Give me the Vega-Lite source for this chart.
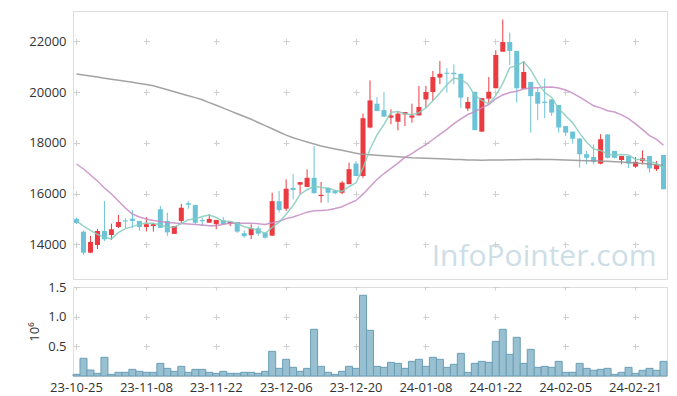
{
  "$schema": "https://vega.github.io/schema/vega-lite/v6.json",
  "padding": {"left": 28, "top": 10, "right": 10, "bottom": 0},
  "background": "white",
  "config": {
    "view": {"stroke": "#dddddd"},
    "font": "Open Sans",
    "axis": {"labelFont": "Open Sans", "labelFontSize": 13, "labelColor": "#333333", "ticks": false, "domain": false, "gridColor": "#d0d0d0", "gridWidth": 1, "titleFont": "Open Sans", "titleFontWeight": "normal", "titleColor": "#333333"}
  },
  "data": {"values": [
    {"d":"23-10-25","o":15000,"h":15050,"l":14800,"c":14840,"v":28000,"m5":14920,"m20":17164,"m120":20711},
    {"d":"23-10-26","o":14496,"h":14540,"l":13580,"c":13669,"v":298000,"m5":14720,"m20":16967,"m120":20672},
    {"d":"23-10-27","o":13670,"h":14330,"l":13650,"c":14090,"v":101000,"m5":14550,"m20":16731,"m120":20629},
    {"d":"23-10-30","o":13972,"h":14603,"l":13815,"c":14524,"v":45000,"m5":14390,"m20":16494,"m120":20589},
    {"d":"23-10-31","o":14524,"h":15706,"l":14130,"c":14197,"v":315000,"m5":14264,"m20":16219,"m120":20546},
    {"d":"23-11-01","o":14366,"h":14812,"l":14169,"c":14591,"v":28000,"m5":14214,"m20":15982,"m120":20506},
    {"d":"23-11-02","o":14682,"h":15155,"l":14640,"c":14879,"v":62000,"m5":14456,"m20":15706,"m120":20463},
    {"d":"23-11-03","o":14940,"h":15030,"l":14640,"c":14900,"v":62000,"m5":14618,"m20":15430,"m120":20424},
    {"d":"23-11-06","o":15010,"h":15350,"l":14640,"c":14920,"v":112000,"m5":14697,"m20":15194,"m120":20384},
    {"d":"23-11-07","o":14920,"h":14920,"l":14530,"c":14680,"v":79000,"m5":14794,"m20":15076,"m120":20341},
    {"d":"23-11-08","o":14680,"h":15070,"l":14510,"c":14790,"v":62000,"m5":14834,"m20":14997,"m120":20301},
    {"d":"23-11-09","o":14720,"h":14850,"l":14500,"c":14790,"v":62000,"m5":14816,"m20":14938,"m120":20246},
    {"d":"23-11-10","o":15380,"h":15510,"l":14640,"c":14650,"v":213000,"m5":14766,"m20":14898,"m120":20167},
    {"d":"23-11-13","o":14920,"h":15250,"l":14330,"c":14470,"v":129000,"m5":14676,"m20":14859,"m120":20089},
    {"d":"23-11-14","o":14410,"h":14720,"l":14410,"c":14720,"v":79000,"m5":14684,"m20":14839,"m120":20014},
    {"d":"23-11-15","o":14920,"h":15590,"l":14850,"c":15440,"v":163000,"m5":14814,"m20":14819,"m120":19935},
    {"d":"23-11-16","o":15620,"h":15700,"l":15400,"c":15560,"v":62000,"m5":14968,"m20":14800,"m120":19856},
    {"d":"23-11-17","o":15550,"h":15550,"l":14800,"c":14850,"v":112000,"m5":15008,"m20":14780,"m120":19781},
    {"d":"23-11-20","o":14960,"h":15050,"l":14720,"c":14910,"v":112000,"m5":15096,"m20":14760,"m120":19695},
    {"d":"23-11-21","o":14850,"h":15180,"l":14850,"c":15000,"v":62000,"m5":15152,"m20":14726,"m120":19584},
    {"d":"23-11-22","o":14790,"h":14960,"l":14590,"c":14960,"v":45000,"m5":15056,"m20":14732,"m120":19478},
    {"d":"23-11-23","o":14950,"h":15080,"l":14790,"c":14790,"v":79000,"m5":14902,"m20":14788,"m120":19367},
    {"d":"23-11-24","o":14810,"h":14880,"l":14720,"c":14880,"v":45000,"m5":14908,"m20":14827,"m120":19257},
    {"d":"23-11-27","o":14880,"h":14880,"l":14450,"c":14500,"v":45000,"m5":14826,"m20":14826,"m120":19147},
    {"d":"23-11-28","o":14440,"h":14550,"l":14260,"c":14320,"v":62000,"m5":14690,"m20":14832,"m120":19036},
    {"d":"23-11-29","o":14360,"h":14790,"l":14200,"c":14630,"v":62000,"m5":14624,"m20":14834,"m120":18926},
    {"d":"23-11-30","o":14630,"h":14720,"l":14330,"c":14420,"v":45000,"m5":14550,"m20":14811,"m120":18800},
    {"d":"23-12-01","o":14460,"h":14460,"l":14230,"c":14260,"v":79000,"m5":14426,"m20":14778,"m120":18678},
    {"d":"23-12-04","o":14340,"h":16030,"l":14340,"c":15700,"v":416000,"m5":14666,"m20":14847,"m120":18552},
    {"d":"23-12-05","o":15700,"h":16100,"l":15250,"c":15350,"v":129000,"m5":14872,"m20":14911,"m120":18426},
    {"d":"23-12-06","o":15400,"h":16560,"l":15310,"c":16190,"v":281000,"m5":15184,"m20":15011,"m120":18303},
    {"d":"23-12-07","o":16220,"h":16760,"l":15770,"c":16140,"v":146000,"m5":15528,"m20":15078,"m120":18197},
    {"d":"23-12-08","o":16350,"h":16450,"l":15990,"c":16450,"v":79000,"m5":15966,"m20":15168,"m120":18114},
    {"d":"23-12-11","o":16260,"h":16950,"l":16260,"c":16620,"v":129000,"m5":16150,"m20":15266,"m120":18031},
    {"d":"23-12-12","o":16620,"h":17870,"l":16010,"c":16010,"v":787000,"m5":16282,"m20":15320,"m120":17949},
    {"d":"23-12-13","o":15900,"h":16460,"l":15640,"c":15950,"v":163000,"m5":16234,"m20":15336,"m120":17870},
    {"d":"23-12-14","o":16230,"h":16230,"l":15640,"c":16030,"v":62000,"m5":16212,"m20":15349,"m120":17815},
    {"d":"23-12-15","o":16100,"h":16150,"l":15970,"c":16010,"v":28000,"m5":16124,"m20":15407,"m120":17759},
    {"d":"23-12-18","o":16030,"h":16490,"l":15970,"c":16430,"v":79000,"m5":16086,"m20":15482,"m120":17704},
    {"d":"23-12-19","o":16370,"h":17220,"l":16370,"c":16960,"v":163000,"m5":16276,"m20":15610,"m120":17645},
    {"d":"23-12-20","o":17180,"h":17280,"l":16690,"c":16690,"v":129000,"m5":16424,"m20":15727,"m120":17590},
    {"d":"23-12-21","o":16690,"h":19150,"l":16620,"c":18970,"v":1360000,"m5":17012,"m20":15976,"m120":17551},
    {"d":"23-12-22","o":18600,"h":20460,"l":18570,"c":19670,"v":770000,"m5":17744,"m20":16265,"m120":17531},
    {"d":"23-12-26","o":19540,"h":19800,"l":19250,"c":19250,"v":163000,"m5":18308,"m20":16553,"m120":17511},
    {"d":"23-12-27","o":19290,"h":20000,"l":19030,"c":19030,"v":146000,"m5":18722,"m20":16788,"m120":17491},
    {"d":"23-12-28","o":18990,"h":19320,"l":18730,"c":19080,"v":230000,"m5":19200,"m20":16991,"m120":17468},
    {"d":"24-01-02","o":18830,"h":19250,"l":18490,"c":19150,"v":213000,"m5":19236,"m20":17197,"m120":17448},
    {"d":"24-01-03","o":19120,"h":19210,"l":18660,"c":19210,"v":129000,"m5":19144,"m20":17425,"m120":17428},
    {"d":"24-01-04","o":18990,"h":19540,"l":18790,"c":19080,"v":247000,"m5":19110,"m20":17574,"m120":17409},
    {"d":"24-01-05","o":19080,"h":20240,"l":19080,"c":19410,"v":281000,"m5":19186,"m20":17757,"m120":17401},
    {"d":"24-01-08","o":19710,"h":20240,"l":19380,"c":20000,"v":163000,"m5":19370,"m20":17927,"m120":17389},
    {"d":"24-01-09","o":20000,"h":20830,"l":19650,"c":20590,"v":315000,"m5":19658,"m20":18130,"m120":17377},
    {"d":"24-01-10","o":20570,"h":21220,"l":20310,"c":20720,"v":281000,"m5":19960,"m20":18333,"m120":17369},
    {"d":"24-01-11","o":20760,"h":20940,"l":19980,"c":20720,"v":146000,"m5":20288,"m20":18528,"m120":17358},
    {"d":"24-01-12","o":20760,"h":21090,"l":20310,"c":20700,"v":197000,"m5":20550,"m20":18754,"m120":17346},
    {"d":"24-01-15","o":20720,"h":20720,"l":19380,"c":19780,"v":382000,"m5":20506,"m20":18945,"m120":17338},
    {"d":"24-01-16","o":19350,"h":19805,"l":19253,"c":19610,"v":62000,"m5":20310,"m20":19114,"m120":17326},
    {"d":"24-01-17","o":20010,"h":20010,"l":18500,"c":18500,"v":213000,"m5":19866,"m20":19229,"m120":17318},
    {"d":"24-01-18","o":18440,"h":19760,"l":18440,"c":19760,"v":247000,"m5":19674,"m20":19375,"m120":17314},
    {"d":"24-01-19","o":19740,"h":20590,"l":19580,"c":20010,"v":230000,"m5":19532,"m20":19508,"m120":17318},
    {"d":"24-01-22","o":20150,"h":21650,"l":20150,"c":21460,"v":584000,"m5":19868,"m20":19736,"m120":17322},
    {"d":"24-01-23","o":21590,"h":22860,"l":21590,"c":21970,"v":787000,"m5":20340,"m20":19886,"m120":17326},
    {"d":"24-01-24","o":21970,"h":22340,"l":21060,"c":21620,"v":365000,"m5":20964,"m20":19984,"m120":17330},
    {"d":"24-01-25","o":21620,"h":21620,"l":19580,"c":20150,"v":652000,"m5":21042,"m20":20029,"m120":17334},
    {"d":"24-01-26","o":20130,"h":21220,"l":20130,"c":20790,"v":213000,"m5":21198,"m20":20117,"m120":17338},
    {"d":"24-01-29","o":20400,"h":20400,"l":18400,"c":19840,"v":449000,"m5":20874,"m20":20155,"m120":17346},
    {"d":"24-01-30","o":20000,"h":20170,"l":18890,"c":19540,"v":146000,"m5":20388,"m20":20174,"m120":17350},
    {"d":"24-01-31","o":19620,"h":20540,"l":18970,"c":19570,"v":163000,"m5":19980,"m20":20193,"m120":17345},
    {"d":"24-02-01","o":19710,"h":19710,"l":19060,"c":19190,"v":146000,"m5":19788,"m20":20198,"m120":17340},
    {"d":"24-02-02","o":19490,"h":19490,"l":18400,"c":18600,"v":247000,"m5":19350,"m20":20158,"m120":17330},
    {"d":"24-02-05","o":18660,"h":18660,"l":18270,"c":18400,"v":62000,"m5":19062,"m20":20078,"m120":17320},
    {"d":"24-02-06","o":18440,"h":18440,"l":17965,"c":18160,"v":62000,"m5":18786,"m20":19956,"m120":17312},
    {"d":"24-02-07","o":18170,"h":18170,"l":17020,"c":17550,"v":213000,"m5":18380,"m20":19798,"m120":17305},
    {"d":"24-02-08","o":17550,"h":17680,"l":17150,"c":17410,"v":129000,"m5":18024,"m20":19632,"m120":17297},
    {"d":"24-02-13","o":17440,"h":17940,"l":17150,"c":17240,"v":96000,"m5":17752,"m20":19458,"m120":17290},
    {"d":"24-02-14","o":17180,"h":18340,"l":17150,"c":18140,"v":112000,"m5":17700,"m20":19376,"m120":17280},
    {"d":"24-02-15","o":18330,"h":18330,"l":17380,"c":17410,"v":129000,"m5":17550,"m20":19266,"m120":17270},
    {"d":"24-02-16","o":17680,"h":17680,"l":17380,"c":17410,"v":28000,"m5":17522,"m20":19212,"m120":17255},
    {"d":"24-02-19","o":17320,"h":17480,"l":17150,"c":17480,"v":62000,"m5":17536,"m20":19098,"m120":17240},
    {"d":"24-02-20","o":17480,"h":17480,"l":17010,"c":17180,"v":146000,"m5":17524,"m20":18956,"m120":17220},
    {"d":"24-02-21","o":17060,"h":17440,"l":17010,"c":17250,"v":45000,"m5":17346,"m20":18746,"m120":17200},
    {"d":"24-02-22","o":17280,"h":17700,"l":17150,"c":17390,"v":96000,"m5":17342,"m20":18517,"m120":17180},
    {"d":"24-02-23","o":17480,"h":17480,"l":16820,"c":16990,"v":129000,"m5":17258,"m20":18285,"m120":17160},
    {"d":"24-02-26","o":16960,"h":17280,"l":16890,"c":17150,"v":96000,"m5":17192,"m20":18135,"m120":17135},
    {"d":"24-02-27","o":17520,"h":17520,"l":16170,"c":16170,"v":247000,"m5":16990,"m20":17904,"m120":17110}
  ]},
  "spacing": 0,
  "resolve": {"scale": {"y": "independent"}},
  "vconcat": [
    {
      "width": 594,
      "height": 268,
      "encoding": {
        "x": {"field": "d", "type": "ordinal", "sort": null, "title": null,
              "scale": {"paddingInner": 0, "paddingOuter": 0},
              "axis": {"labels": false, "ticks": false, "domain": false, "grid": true, "bandPosition": 0.5,
                       "gridDash": [6, 44.75], "gridDashOffset": 23.45,
                       "values": ["23-10-25","23-11-08","23-11-22","23-12-06","23-12-20","24-01-08","24-01-22","24-02-05","24-02-21"]}}
      },
      "layer": [
        {
          "mark": {"type": "rule", "strokeWidth": 1},
          "encoding": {
            "y": {"field": "l", "type": "quantitative", "title": null,
                  "scale": {"domain": [12632, 23194], "nice": false, "zero": false},
                  "axis": {"values": [14000, 16000, 18000, 20000, 22000], "format": "d", "labelPadding": 7, "grid": true, "gridDash": [6, 63.88], "gridDashOffset": -0.5}},
            "y2": {"field": "h"},
            "color": {"condition": {"test": "datum.c > datum.o", "value": "#ec3b40"}, "value": "#6cc3d7"}
          }
        },
        {
          "mark": {"type": "bar", "width": {"band": 0.72}},
          "encoding": {
            "y": {"field": "o", "type": "quantitative", "title": null},
            "y2": {"field": "c"},
            "color": {"condition": {"test": "datum.c > datum.o", "value": "#ec3b40"}, "value": "#6cc3d7"}
          }
        },
        {
          "mark": {"type": "line", "color": "#999999", "strokeWidth": 1.5, "opacity": 0.9},
          "encoding": {"y": {"field": "m120", "type": "quantitative", "title": null}}
        },
        {
          "mark": {"type": "line", "color": "#c58bc3", "strokeWidth": 1.5, "opacity": 0.85},
          "encoding": {"y": {"field": "m20", "type": "quantitative", "title": null}}
        },
        {
          "mark": {"type": "line", "color": "#86cbbd", "strokeWidth": 1.5, "opacity": 0.85},
          "encoding": {"y": {"field": "m5", "type": "quantitative", "title": null}}
        },
        {
          "data": {"values": [{}]},
          "mark": {"type": "text", "text": "InfoPointer.com", "font": "Open Sans", "fontSize": 30, "color": "#c8dbe5", "opacity": 0.9, "align": "right", "baseline": "alphabetic"},
          "encoding": {"x": {"datum": "24-02-26"}, "y": {"datum": 13150}}
        }
      ]
    },
    {
      "width": 594,
      "height": 89,
      "mark": {"type": "bar", "color": "#99c0d1", "stroke": "#6a9eb6", "strokeWidth": 1},
      "encoding": {
        "x": {"field": "d", "type": "ordinal", "sort": null, "title": null,
              "scale": {"paddingInner": 0, "paddingOuter": 0},
              "axis": {"labelAngle": 0, "labelPadding": 5, "ticks": false, "domain": false, "grid": true, "bandPosition": 0.5,
                       "gridDash": [6, 23.67], "gridDashOffset": 3,
                       "values": ["23-10-25","23-11-08","23-11-22","23-12-06","23-12-20","24-01-08","24-01-22","24-02-05","24-02-21"]}},
        "y": {"field": "v", "type": "quantitative", "title": "10⁶",
              "scale": {"domain": [0, 1500000], "nice": false},
              "axis": {"values": [500000, 1000000, 1500000], "labelExpr": "format(datum.value / 1000000, '.1f')", "labelPadding": 7, "titlePadding": 6, "titleFontSize": 13,
                       "grid": true, "gridDash": [6, 63.88], "gridDashOffset": -0.5}}
      }
    }
  ]
}
